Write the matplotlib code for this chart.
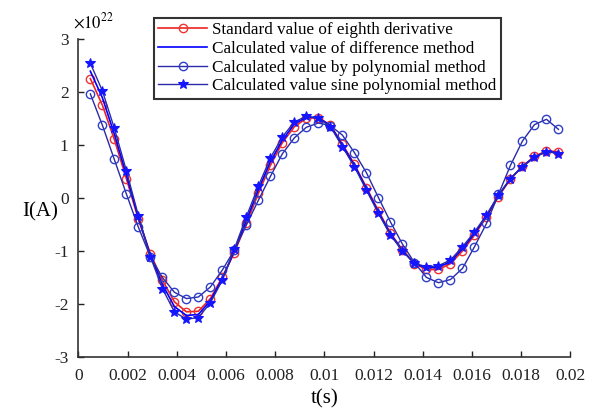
import matplotlib
matplotlib.use("Agg")
import matplotlib.pyplot as plt

plt.rcParams['font.family'] = ['Liberation Serif', 'DejaVu Serif']
plt.rcParams['mathtext.fontset'] = 'stix'

t = [0.000488, 0.000976, 0.001463, 0.001951, 0.002439, 0.002927, 0.003415, 0.003902,
     0.004390, 0.004878, 0.005366, 0.005854, 0.006341, 0.006829, 0.007317, 0.007805,
     0.008293, 0.008780, 0.009268, 0.009756, 0.010244, 0.010732, 0.011220, 0.011707,
     0.012195, 0.012683, 0.013171, 0.013659, 0.014146, 0.014634, 0.015122, 0.015610,
     0.016098, 0.016585, 0.017073, 0.017561, 0.018049, 0.018537, 0.019024, 0.019512]

standard = [2.26, 1.76, 1.11, 0.37, -0.40, -1.05, -1.55, -1.96, -2.15, -2.14,
            -1.90, -1.49, -1.03, -0.48, 0.09, 0.62, 1.05, 1.35, 1.51, 1.52,
            1.38, 1.02, 0.64, 0.20, -0.24, -0.66, -0.98, -1.24, -1.35, -1.35,
            -1.24, -1.00, -0.70, -0.36, 0.03, 0.36, 0.60, 0.79, 0.89, 0.88]

difference = [2.40, 1.90, 1.21, 0.44, -0.37, -1.08, -1.63, -2.05, -2.22, -2.20,
              -1.94, -1.52, -1.00, -0.42, 0.16, 0.69, 1.10, 1.40, 1.53, 1.52,
              1.37, 1.00, 0.62, 0.18, -0.27, -0.68, -0.99, -1.24, -1.32, -1.31,
              -1.20, -0.96, -0.67, -0.34, 0.05, 0.37, 0.60, 0.78, 0.88, 0.86]

polynomial = [1.97, 1.38, 0.73, 0.08, -0.55, -1.11, -1.50, -1.78, -1.90, -1.87,
              -1.68, -1.36, -0.98, -0.51, -0.04, 0.41, 0.84, 1.14, 1.34, 1.42,
              1.37, 1.19, 0.86, 0.48, 0.01, -0.45, -0.87, -1.22, -1.50, -1.60,
              -1.54, -1.33, -0.92, -0.48, 0.07, 0.62, 1.08, 1.39, 1.49, 1.30]

sine_poly = [2.55, 2.03, 1.32, 0.52, -0.33, -1.11, -1.71, -2.15, -2.29, -2.26,
             -1.98, -1.55, -0.96, -0.35, 0.23, 0.76, 1.16, 1.44, 1.55, 1.51,
             1.35, 0.97, 0.59, 0.15, -0.29, -0.70, -1.00, -1.23, -1.30, -1.28,
             -1.17, -0.92, -0.64, -0.32, 0.06, 0.37, 0.59, 0.77, 0.88, 0.84]

labels = ["Standard value of eighth derivative",
          "Calculated value of difference method",
          "Calculated value by polynomial method",
          "Calculated value sine polynomial method"]

xticks = [0, 0.002, 0.004, 0.006, 0.008, 0.01, 0.012, 0.014, 0.016, 0.018, 0.02]
xticklabels = ['0', '0.002', '0.004', '0.006', '0.008', '0.01', '0.012', '0.014', '0.016', '0.018', '0.02']
yticks = [-3, -2, -1, 0, 1, 2, 3]
yticklabels = ['-3', '-2', '-1', '0', '1', '2', '3']

fig = plt.figure(figsize=(5.98, 4.11), dpi=100)
ax = fig.add_axes([0.131, 0.132, 0.823, 0.772])

ax.plot(t, standard, color='#ee2222', lw=1.2, marker='o', ms=6, mfc='none',
        mec='#ee3333', mew=1.0, label=labels[0])
ax.plot(t, difference, color='#0000ff', lw=1.2, label=labels[1])
ax.plot(t, polynomial, color='#2a2aaa', lw=1.0, marker='o', ms=6, mfc='none',
        mec='#2f3fc8', mew=1.0, label=labels[2])
ax.plot(t, sine_poly, color='#2a2aaa', lw=1.0, marker='*', ms=7.5, mfc='#1515ff',
        mec='#1515ff', mew=0.8, label=labels[3])

ax.set_xlim(0, 0.02)
ax.set_ylim(-3, 3)
ax.set_xticks(xticks)
ax.set_xticklabels(xticklabels)
ax.set_yticks(yticks)
ax.set_yticklabels(yticklabels)
ax.tick_params(direction='in', length=4, width=1, labelsize=12.5, pad=7, colors='#222222')
ax.tick_params(axis='x', pad=8)
for s in ['top', 'right']:
    ax.spines[s].set_visible(False)
for s in ['left', 'bottom']:
    ax.spines[s].set_linewidth(1.2)
    ax.spines[s].set_color('#333333')

ax.set_xlabel('t(s)', fontsize=15, labelpad=4)
fig.text(40 / 598, 1 - 212 / 411, 'I(A)', fontsize=15, ha='center', va='center')
fig.text(73 / 598, 1 - 22 / 411, r'$\times10^{22}$', fontsize=12, ha='left', va='center')

leg = ax.legend(loc='upper left', bbox_to_anchor=(154 / 598, 1 - 18 / 411),
                bbox_transform=fig.transFigure, fontsize=12.3, frameon=True,
                fancybox=False, handlelength=2.85, handletextpad=0.3,
                borderpad=0.25, labelspacing=0.16, borderaxespad=0)
leg.get_frame().set_edgecolor('black')
leg.get_frame().set_linewidth(1.5)

fig.savefig('out.png', dpi=100)
